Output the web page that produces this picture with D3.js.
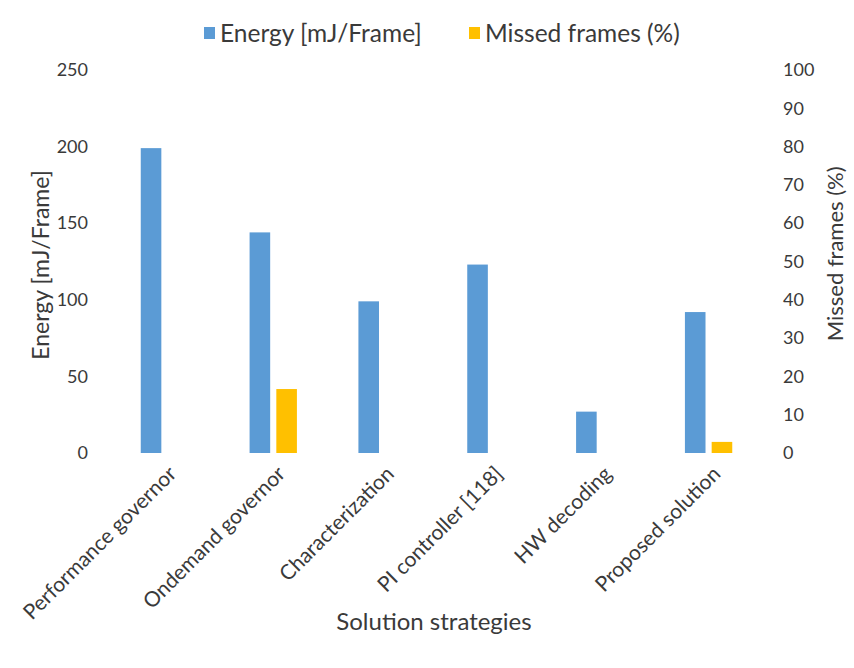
<!DOCTYPE html>
<html>
<head>
<meta charset="utf-8">
<title></title>
<style>
body { margin: 0; background: #fff; }
text { font-family: Lato, "Open Sans", sans-serif; fill: #3a3a3a; }
.tick text { font-size: 18px; }
.axis path, .axis line { display: none; }
</style>
</head>
<body>
<script src="https://cdn.jsdelivr.net/npm/d3@7"></script>
<script>

var categories = ["Performance governor", "Ondemand governor", "Characterization",
                  "PI controller [118]", "HW decoding", "Proposed solution"];
var energy = [199, 144, 99, 123, 27, 92];          // mJ/Frame, left axis
var missed = [0, 16.7, 0, 0, 0, 2.9];              // %, right axis
var energyTicks = [0, 50, 100, 150, 200, 250];
var missedTicks = [0, 10, 20, 30, 40, 50, 60, 70, 80, 90, 100];

var width = 854, height = 668;
var margin = {top: 70, right: 91, bottom: 215, left: 110};

var svg = d3.select("body").append("svg")
    .attr("width", width)
    .attr("height", height);

var x = d3.scaleBand()
    .domain(categories)
    .range([margin.left, width - margin.right]);

var inner = d3.scaleBand()
    .domain(["energy", "missed"])
    .range([0, x.bandwidth()])
    .paddingInner(0.23)
    .paddingOuter(1.15);

var yLeft = d3.scaleLinear()
    .domain([0, 250])
    .range([height - margin.bottom, margin.top]);

var yRight = d3.scaleLinear()
    .domain([0, 100])
    .range([height - margin.bottom, margin.top]);

// bars
var g = svg.append("g");
g.selectAll("rect.energy")
    .data(categories)
    .enter().append("rect")
    .attr("class", "energy")
    .attr("x", function(d) { return x(d) + inner("energy"); })
    .attr("width", inner.bandwidth())
    .attr("y", function(d, i) { return yLeft(energy[i]); })
    .attr("height", function(d, i) { return yLeft(0) - yLeft(energy[i]); })
    .style("fill", "#5B9BD5");

g.selectAll("rect.missed")
    .data(categories)
    .enter().append("rect")
    .attr("class", "missed")
    .attr("x", function(d) { return x(d) + inner("missed"); })
    .attr("width", inner.bandwidth())
    .attr("y", function(d, i) { return yRight(missed[i]); })
    .attr("height", function(d, i) { return yRight(0) - yRight(missed[i]); })
    .style("fill", "#FFC000");

// axes
svg.append("g")
    .attr("class", "axis")
    .attr("transform", "translate(" + (margin.left - 22) + ",0)")
    .call(d3.axisLeft(yLeft).tickValues(energyTicks).tickSize(0).tickPadding(0));

svg.append("g")
    .attr("class", "axis")
    .attr("transform", "translate(" + (width - margin.right + 20) + ",0)")
    .call(d3.axisRight(yRight).tickValues(missedTicks).tickSize(0).tickPadding(0));

var xAxis = svg.append("g")
    .attr("class", "axis")
    .attr("transform", "translate(0," + (height - margin.bottom) + ")")
    .call(d3.axisBottom(x).tickSize(0).tickPadding(0));

xAxis.selectAll("text")
    .style("font-size", "21px")
    .style("text-anchor", "end")
    .attr("y", 0)
    .attr("dy", "0.35em")
    .attr("transform", "translate(8,17) rotate(-45)");

// axis titles
svg.append("text")
    .attr("transform", "translate(49,265) rotate(-90)")
    .attr("text-anchor", "middle")
    .style("font-size", "23px")
    .text("Energy [mJ/Frame]");

svg.append("text")
    .attr("transform", "translate(843," + yRight(52) + ") rotate(-90)")
    .attr("text-anchor", "middle")
    .style("font-size", "22px")
    .text("Missed frames (%)");

svg.append("text")
    .attr("x", 434)
    .attr("y", 630)
    .attr("text-anchor", "middle")
    .style("font-size", "24px")
    .text("Solution strategies");

// legend
var legendItems = [
  {label: "Energy [mJ/Frame]", color: "#5B9BD5", x: 204},
  {label: "Missed frames (%)", color: "#FFC000", x: 469}
];
var legend = svg.append("g").selectAll("g")
    .data(legendItems)
    .enter().append("g")
    .attr("transform", function(d) { return "translate(" + d.x + ",27)"; });
legend.append("rect")
    .attr("width", 11)
    .attr("height", 12)
    .style("fill", function(d) { return d.color; });
legend.append("text")
    .attr("x", 16)
    .attr("y", 6)
    .attr("dy", "0.35em")
    .style("font-size", "24.5px")
    .text(function(d) { return d.label; });

</script>
</body>
</html>
